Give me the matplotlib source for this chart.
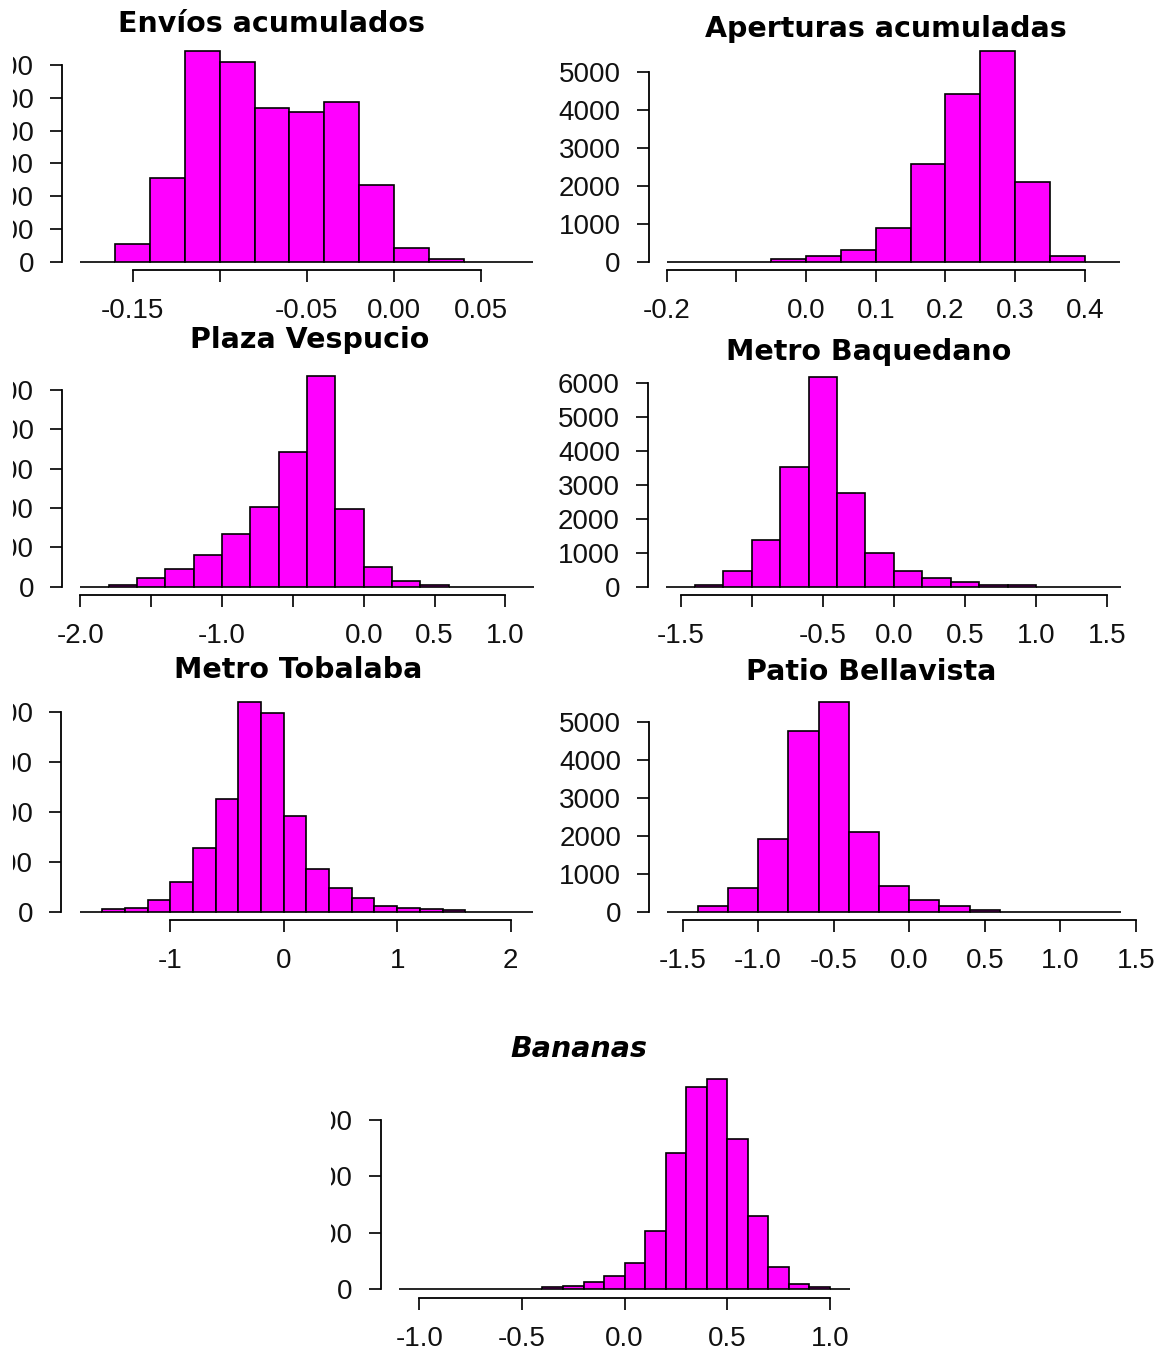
import numpy as np
import matplotlib
matplotlib.use('Agg')
import matplotlib.pyplot as plt
from matplotlib.patches import Rectangle

W, H = 1161, 1347
MAGENTA = '#ff00ff'

# ---- histogram data: first break, bin width, counts per bin ----
envios_start, envios_width = -0.18, 0.02
envios_counts = [0, 264, 1281, 3214, 3041, 2349, 2288, 2441, 1169, 214, 40, 0, 0]

aperturas_start, aperturas_width = -0.2, 0.05
aperturas_counts = [0, 0, 0, 70, 158, 307, 877, 2570, 4404, 5544, 2105, 158, 0]

vespucio_start, vespucio_width = -2.0, 0.2
vespucio_counts = [0, 42, 212, 449, 797, 1339, 2034, 3415, 5347, 1975, 492, 153, 42, 0, 0, 0]

baquedano_start, baquedano_width = -1.6, 0.2
baquedano_counts = [0, 50, 470, 1377, 3520, 6195, 2753, 983, 472, 246, 128, 50, 40, 0, 0, 0]

tobalaba_start, tobalaba_width = -1.8, 0.2
tobalaba_counts = [0, 47, 80, 233, 587, 1280, 2253, 4200, 3980, 1913, 853, 467, 267, 113,
                   80, 47, 33, 0, 0, 0]

bellavista_start, bellavista_width = -1.6, 0.2
bellavista_counts = [0, 150, 616, 1910, 4780, 5546, 2113, 678, 308, 150, 44, 0, 0, 0, 0]

bananas_start, bananas_width = -1.1, 0.1
bananas_counts = [0, 0, 0, 0, 0, 0, 0, 35, 65, 136, 236, 473, 1034, 2410, 3580, 3720,
                  2658, 1305, 402, 95, 35, 0]

# axis ticks / labels
envios_xticks = [-0.15, -0.10, -0.05, 0.00, 0.05]
envios_xlabels = ['-0.15', '', '-0.05', '0.00', '0.05']
envios_yticks = [0, 500, 1000, 1500, 2000, 2500, 3000]

aperturas_xticks = [-0.2, -0.1, 0.0, 0.1, 0.2, 0.3, 0.4]
aperturas_xlabels = ['-0.2', '', '0.0', '0.1', '0.2', '0.3', '0.4']
aperturas_yticks = [0, 1000, 2000, 3000, 4000, 5000]

vespucio_xticks = [-2.0, -1.5, -1.0, -0.5, 0.0, 0.5, 1.0]
vespucio_xlabels = ['-2.0', '', '-1.0', '', '0.0', '0.5', '1.0']
vespucio_yticks = [0, 1000, 2000, 3000, 4000, 5000]

baquedano_xticks = [-1.5, -1.0, -0.5, 0.0, 0.5, 1.0, 1.5]
baquedano_xlabels = ['-1.5', '', '-0.5', '0.0', '0.5', '1.0', '1.5']
baquedano_yticks = [0, 1000, 2000, 3000, 4000, 5000, 6000]

tobalaba_xticks = [-1, 0, 1, 2]
tobalaba_xlabels = ['-1', '0', '1', '2']
tobalaba_yticks = [0, 1000, 2000, 3000, 4000]

bellavista_xticks = [-1.5, -1.0, -0.5, 0.0, 0.5, 1.0, 1.5]
bellavista_xlabels = ['-1.5', '-1.0', '-0.5', '0.0', '0.5', '1.0', '1.5']
bellavista_yticks = [0, 1000, 2000, 3000, 4000, 5000]

bananas_xticks = [-1.0, -0.5, 0.0, 0.5, 1.0]
bananas_xlabels = ['-1.0', '-0.5', '0.0', '0.5', '1.0']
bananas_yticks = [0, 1000, 2000, 3000]

fig = plt.figure(figsize=(W / 100, H / 100), dpi=100)


def hist_panel(start, width, counts, xticks, xlabels, yticks, cal, title, tpos, italic=False):
    # cal: (xa, xa_px, xb, xb_px, y0_px, yk, yk_px) pixel calibration of the panel
    xa, xa_px, xb, xb_px, y0_px, yk, yk_px = cal
    counts = np.array(counts, dtype=float)
    edges = start + width * np.arange(len(counts) + 1)
    lo, hi = edges[0], edges[-1]
    xlim = (lo - 0.04 * (hi - lo), hi + 0.04 * (hi - lo))
    ylim = (-0.04 * counts.max(), 1.04 * counts.max())
    sx = (xb_px - xa_px) / (xb - xa)
    sy = (y0_px - yk_px) / yk
    left = xa_px + (xlim[0] - xa) * sx
    right = xa_px + (xlim[1] - xa) * sx
    top = y0_px - ylim[1] * sy
    bottom = y0_px - ylim[0] * sy
    ax = fig.add_axes([left / W, 1 - bottom / H, (right - left) / W, (bottom - top) / H])
    ax.bar(edges[:-1], counts, width=width, align='edge', color=MAGENTA,
           edgecolor='black', linewidth=1.2)
    ax.set_xlim(xlim)
    ax.set_ylim(ylim)
    for s in ['top', 'right']:
        ax.spines[s].set_visible(False)
    for s in ['left', 'bottom']:
        ax.spines[s].set_linewidth(1.3)
    ax.spines['bottom'].set_bounds(xticks[0], xticks[-1])
    ax.spines['left'].set_bounds(yticks[0], yticks[-1])
    ax.set_xticks(xticks)
    ax.set_xticklabels(xlabels)
    ax.set_yticks(yticks)
    ax.set_yticklabels([str(v) for v in yticks])
    ax.tick_params(direction='out', length=8.3, width=1.3, pad=12,
                   labelsize=20, colors='#111111')
    for lab in ax.get_xticklabels() + ax.get_yticklabels():
        lab.set_family('Liberation Sans')
    ax.patch.set_alpha(0)
    fig.text(tpos[0] / W, 1 - tpos[1] / H, title, ha='center', va='center',
             fontsize=20.5, fontweight='bold', family='DejaVu Sans',
             style='italic' if italic else 'normal')
    return ax


hist_panel(envios_start, envios_width, envios_counts, envios_xticks, envios_xlabels,
           envios_yticks, (-0.15, 132.6, 0.05, 481.1, 261.7, 3000, 65.0),
           'Envíos acumulados', (271.7, 23.7))
hist_panel(aperturas_start, aperturas_width, aperturas_counts, aperturas_xticks,
           aperturas_xlabels, aperturas_yticks, (-0.2, 666.7, 0.4, 1084.7, 261.7, 5000, 71.7),
           'Aperturas acumuladas', (885.5, 29.0))
hist_panel(vespucio_start, vespucio_width, vespucio_counts, vespucio_xticks,
           vespucio_xlabels, vespucio_yticks, (-2.0, 80.3, 1.0, 505.4, 586.7, 5000, 390.0),
           'Plaza Vespucio', (309.8, 340.0))
hist_panel(baquedano_start, baquedano_width, baquedano_counts, baquedano_xticks,
           baquedano_xlabels, baquedano_yticks, (-1.5, 680.6, 1.5, 1107.0, 586.7, 6000, 383.3),
           'Metro Baquedano', (868.2, 352.5))
hist_panel(tobalaba_start, tobalaba_width, tobalaba_counts, tobalaba_xticks,
           tobalaba_xlabels, tobalaba_yticks, (-1, 170.3, 2, 510.6, 911.7, 4000, 711.7),
           'Metro Tobalaba', (297.7, 670.0))
hist_panel(bellavista_start, bellavista_width, bellavista_counts, bellavista_xticks,
           bellavista_xlabels, bellavista_yticks, (-1.5, 682.5, 1.5, 1135.9, 911.7, 5000, 722.3),
           'Patio Bellavista', (871.0, 671.7))
hist_panel(bananas_start, bananas_width, bananas_counts, bananas_xticks,
           bananas_xlabels, bananas_yticks, (-1.0, 419.4, 1.0, 829.7, 1289.3, 3000, 1120.0),
           'Bananas', (579.3, 1049.0), italic=True)

# the left column and the bottom panel are cropped on their left side
fig.patches.append(Rectangle((0, 0), 13 / W, 1, transform=fig.transFigure,
                             facecolor='white', edgecolor='none', zorder=10))
fig.patches.append(Rectangle((0, 0), 331 / W, (H - 1075) / H, transform=fig.transFigure,
                             facecolor='white', edgecolor='none', zorder=10))

fig.savefig('out.png', dpi=100)
